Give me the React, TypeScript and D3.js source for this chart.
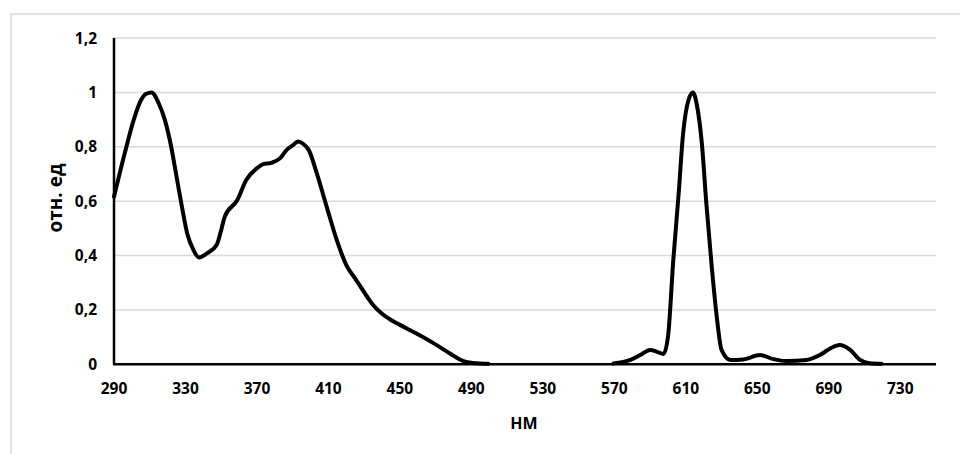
import React from "react";
import * as d3 from "d3";

// excitation band (left curve)
const nmExc = [290, 296, 301, 305, 308, 311, 315, 318.5, 322, 325, 328, 331, 334.5, 337.5, 342, 347.5, 350, 352, 359, 364, 370, 373.5, 378, 383, 386.5, 390, 393, 396, 399, 403.5, 409, 415, 420, 425, 430, 435, 440, 445, 450, 459, 469, 478, 485.5, 491, 499.5];
const valExc = [0.616, 0.776, 0.898, 0.97, 0.995, 1.0, 0.96, 0.898, 0.8, 0.69, 0.58, 0.48, 0.42, 0.393, 0.408, 0.44, 0.494, 0.543, 0.604, 0.678, 0.721, 0.736, 0.741, 0.758, 0.788, 0.805, 0.819, 0.81, 0.788, 0.702, 0.58, 0.45, 0.365, 0.315, 0.265, 0.218, 0.186, 0.163, 0.145, 0.114, 0.077, 0.04, 0.012, 0.005, 0.002];

// emission band (right curve)
const nmEm = [569.5, 579, 584.5, 590, 594, 597.5, 600, 603, 606, 608.5, 611.5, 614, 616, 619, 621.5, 624.5, 627.5, 630, 635, 642, 651.5, 659, 666.5, 677.5, 685, 691, 696, 702, 707.5, 713, 719.5];
const valEm = [0.003, 0.016, 0.034, 0.053, 0.046, 0.038, 0.1, 0.384, 0.629, 0.85, 0.972, 1.0, 0.96, 0.81, 0.59, 0.359, 0.163, 0.053, 0.016, 0.018, 0.034, 0.019, 0.012, 0.016, 0.034, 0.059, 0.071, 0.053, 0.016, 0.004, 0.002];

const xTicks = [290, 330, 370, 410, 450, 490, 530, 570, 610, 650, 690, 730];
const yTicks = [0, 0.2, 0.4, 0.6, 0.8, 1, 1.2];

const width = 960;
const height = 454;
const font = "'Open Sans', sans-serif";

const App = () => {
  const x = d3.scaleLinear().domain([290, 750]).range([114, 936]);
  const y = d3.scaleLinear().domain([0, 1.2]).range([364.3, 38]);

  const line = d3
    .line<[number, number]>()
    .x((d) => x(d[0]))
    .y((d) => y(d[1]))
    .curve(d3.curveMonotoneX);

  const exc = nmExc.map((n, i) => [n, valExc[i]] as [number, number]);
  const em = nmEm.map((n, i) => [n, valEm[i]] as [number, number]);

  const fmt = (v: number) => String(+v.toFixed(1)).replace(".", ",");

  return (
    <svg
      width={width}
      height={height}
      style={{ position: "absolute", left: 0, top: 0, background: "#fff" }}
    >
      <rect x={11} y={14} width={960} height={460} fill="#fff" stroke="#d9d9d9" strokeWidth={1.5} />

      {/* gridlines */}
      {yTicks.slice(1).map((t) => (
        <line key={t} x1={x(290)} x2={x(750)} y1={y(t)} y2={y(t)} stroke="#d9d9d9" strokeWidth={1.5} />
      ))}

      {/* y tick labels */}
      {yTicks.map((t) => (
        <text
          key={t}
          x={97}
          y={y(t)}
          dy="0.36em"
          textAnchor="end"
          fontFamily={font}
          fontWeight={700}
          fontSize={15.5}
          fill="#000"
        >
          {fmt(t)}
        </text>
      ))}

      {/* x tick labels */}
      {xTicks.map((t) => (
        <text
          key={t}
          x={x(t)}
          y={394}
          textAnchor="middle"
          fontFamily={font}
          fontWeight={700}
          fontSize={15.5}
          fill="#000"
        >
          {t}
        </text>
      ))}

      {/* curves */}
      <path d={line(exc) ?? ""} fill="none" stroke="#000" strokeWidth={4} strokeLinejoin="round" strokeLinecap="round" />
      <path d={line(em) ?? ""} fill="none" stroke="#000" strokeWidth={4} strokeLinejoin="round" strokeLinecap="round" />

      {/* axes */}
      <line x1={x(290)} x2={x(290)} y1={y(1.2)} y2={y(0)} stroke="#000" strokeWidth={2.5} />
      <line x1={x(290) - 1} x2={x(750)} y1={y(0)} y2={y(0)} stroke="#000" strokeWidth={2.5} />

      {/* axis titles */}
      <text
        x={524}
        y={429}
        textAnchor="middle"
        fontFamily={font}
        fontWeight={700}
        fontSize={16}
        fill="#000"
      >
        НМ
      </text>
      <text
        transform="translate(62,198) rotate(-90)"
        textAnchor="middle"
        fontFamily={font}
        fontWeight={700}
        fontSize={19}
        fill="#000"
      >
        отн. ед
      </text>
    </svg>
  );
};

export default App;
